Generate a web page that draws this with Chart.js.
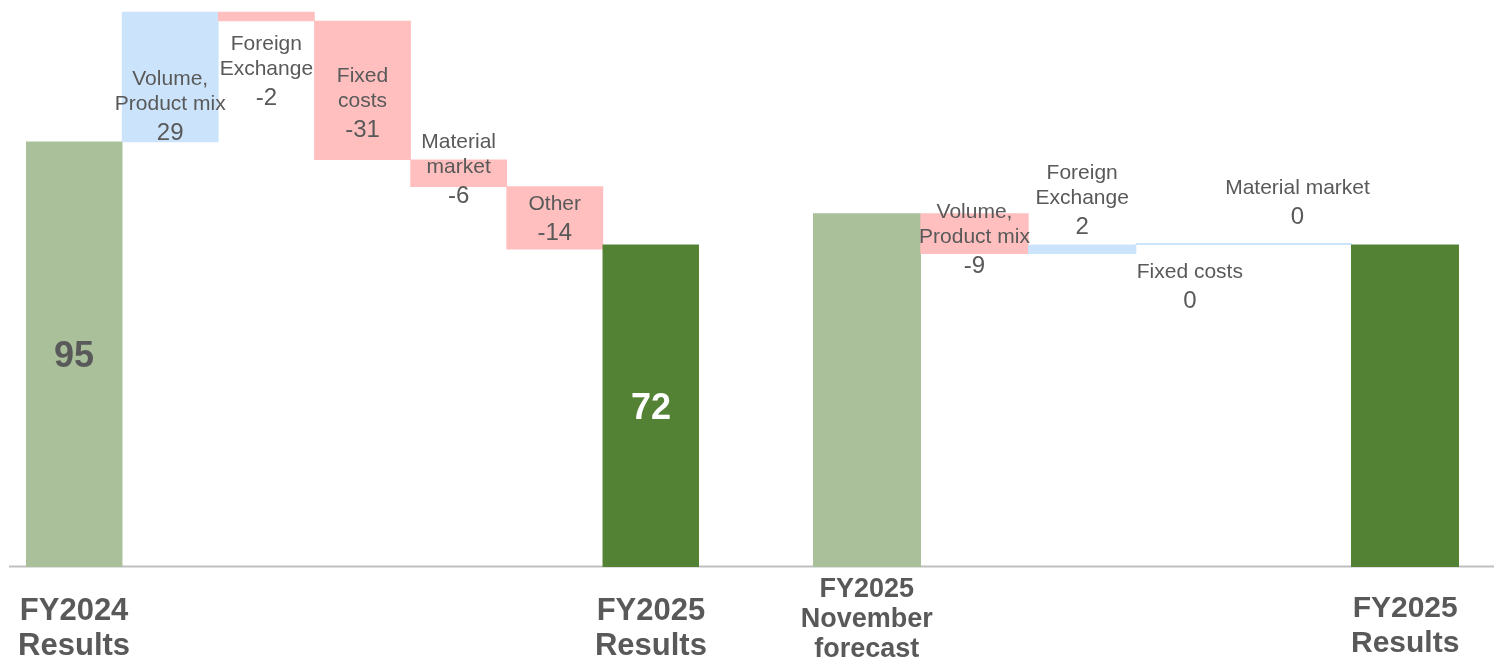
<!DOCTYPE html>
<html>
<head>
<meta charset="utf-8">
<script src="https://cdn.jsdelivr.net/npm/chart.js@4.4.1/dist/chart.umd.min.js"></script>
<style>
  html, body { margin: 0; background: #fff; }
  #wrap { position: relative; width: 1494px; height: 657px; overflow: hidden; }
  canvas { position: absolute; top: 0; }
  #left  { left: 0; }
  #right { left: 750px; }
</style>
</head>
<body>
<div id="wrap">
  <canvas id="left" width="750" height="657"></canvas>
  <canvas id="right" width="744" height="657"></canvas>
</div>
<script>
// Operating profit bridge: FY2024 -> FY2025, and November forecast -> FY2025

// left bridge
const leftValues = [95, 29, -2, -31, -6, -14, 72];
const leftKinds  = ["start", "delta", "delta", "delta", "delta", "delta", "end"];
const leftTicks  = [["FY2024", "Results"], "", "", "", "", "", ["FY2025", "Results"]];
const leftNames  = [null, ["Volume,", "Product mix"], ["Foreign", "Exchange"], ["Fixed", "costs"], ["Material", "market"], ["Other"], null];

// right bridge
const rightValues = [79, -9, 2, 0, 0, 72];
const rightKinds  = ["start", "delta", "delta", "delta", "delta", "end"];
const rightTicks  = [["FY2025", "November", "forecast"], "", "", "", "", ["FY2025", "Results"]];
const rightNames  = [null, ["Volume,", "Product mix"], ["Foreign", "Exchange"], ["Fixed costs"], ["Material market"], null];

// where each step label sits relative to its bar
const leftPlace  = [null, { at: "base" }, { at: "below", gap: 14 }, { at: "mid", dy: 12 }, { at: "mid", dy: -5 }, { at: "mid" }, null];
const rightPlace = [null, { at: "mid", dy: 4 }, { at: "above", gap: 11 }, { at: "below", gap: 18 }, { at: "above", gap: 19 }, null];

const FONT = "'Liberation Sans', Arial, sans-serif";
const TEXT = "#595959";
const COLORS = { start: "#A9C09A", end: "#548235", up: "#CCE4FB", down: "#FFBFBF" };
const Y_MAX = 126.7;

// turn step values into floating [from, to] bars
function bridge(values, kinds) {
  let run = 0;
  return values.map((v, i) => {
    if (kinds[i] !== "delta") { run = v; return [0, v]; }
    const from = run;
    run += v;
    return [from, run];
  });
}

function barColors(values, kinds) {
  return values.map((v, i) => {
    if (kinds[i] === "start") return COLORS.start;
    if (kinds[i] === "end") return COLORS.end;
    return v < 0 ? COLORS.down : COLORS.up;
  });
}

const stepLabels = {
  id: "stepLabels",
  afterDatasetsDraw(chart, args, opts) {
    const ctx = chart.ctx;
    const meta = chart.getDatasetMeta(0);
    meta.data.forEach((bar, i) => {
      const value = opts.values[i];
      const kind = opts.kinds[i];
      const p = bar.getProps(["x", "y", "base"], true);
      const top = Math.min(p.y, p.base);
      const bottom = Math.max(p.y, p.base);
      ctx.save();
      ctx.textAlign = "center";

      if (kind !== "delta") {
        if (opts.totals) {
          ctx.font = "bold 36px " + FONT;
          ctx.fillStyle = kind === "end" ? "#ffffff" : TEXT;
          ctx.textBaseline = "middle";
          ctx.fillText(String(value), p.x, (top + bottom) / 2 + 3);
        }
        ctx.restore();
        return;
      }

      const names = opts.names[i];
      const place = opts.place[i];
      const lineGap = 25, valueGap = 30, cap = 15;
      const span = (names.length - 1) * lineGap + valueGap; // first baseline -> value baseline
      let first;
      if (place.at === "base") first = bottom - 2 - span;
      else if (place.at === "below") first = bottom + place.gap + cap;
      else if (place.at === "above") first = top - place.gap - span;
      else first = (top + bottom) / 2 + (place.dy || 0) - (span + cap) / 2 + cap;

      ctx.textBaseline = "alphabetic";
      ctx.fillStyle = TEXT;
      ctx.font = "21px " + FONT;
      names.forEach((line, k) => ctx.fillText(line, p.x, first + k * lineGap));
      ctx.font = "24px " + FONT;
      ctx.fillText(String(value), p.x, first + span);
      ctx.restore();
    });
  }
};

const axisLine = {
  id: "axisLine",
  beforeDatasetsDraw(chart, args, opts) {
    const ctx = chart.ctx;
    const y = chart.scales.y.getPixelForValue(0);
    ctx.save();
    ctx.strokeStyle = "#BFBFBF";
    ctx.lineWidth = 2;
    ctx.beginPath();
    ctx.moveTo(opts.from, y - 0.5);
    ctx.lineTo(chart.width, y - 0.5);
    ctx.stroke();
    ctx.restore();
  }
};

function makeChart(id, cfg) {
  return new Chart(document.getElementById(id), {
    type: "bar",
    data: {
      labels: cfg.ticks,
      datasets: [{
        data: bridge(cfg.values, cfg.kinds),
        backgroundColor: barColors(cfg.values, cfg.kinds),
        borderWidth: 0,
        barPercentage: 1,
        categoryPercentage: 1,
        minBarLength: 1.5
      }]
    },
    options: {
      responsive: false,
      animation: false,
      layout: { padding: { left: cfg.padLeft, right: cfg.padRight, top: 0, bottom: 0 } },
      plugins: {
        legend: { display: false },
        tooltip: { enabled: false },
        stepLabels: { values: cfg.values, kinds: cfg.kinds, names: cfg.names, place: cfg.place, totals: cfg.totals },
        axisLine: { from: cfg.lineFrom }
      },
      scales: {
        y: { display: false, min: 0, max: Y_MAX },
        x: {
          grid: { display: false, drawTicks: false },
          border: { display: false },
          afterFit(scale) {
            scale.height = 90;
            scale.paddingLeft = 0;
            scale.paddingRight = 0;
          },
          ticks: {
            autoSkip: false,
            maxRotation: 0,
            minRotation: 0,
            padding: cfg.tickPad,
            crossAlign: cfg.crossAlign,
            color: TEXT,
            font: cfg.tickFont
          }
        }
      }
    },
    plugins: [axisLine, stepLabels]
  });
}

makeChart("left", {
  values: leftValues, kinds: leftKinds, ticks: leftTicks, names: leftNames, place: leftPlace,
  totals: true, padLeft: 26, padRight: 51, lineFrom: 9,
  tickPad: 26, crossAlign: "near",
  tickFont: { family: FONT, size: 31, weight: "bold", lineHeight: 1.16 }
});

makeChart("right", {
  values: rightValues, kinds: rightKinds, ticks: rightTicks, names: rightNames, place: rightPlace,
  totals: false, padLeft: 63, padRight: 35, lineFrom: 0,
  tickPad: 23, crossAlign: "far",
  tickFont: c => c.index === 0
    ? { family: FONT, size: 27, weight: "bold", lineHeight: 1.1 }
    : { family: FONT, size: 30, weight: "bold", lineHeight: 1.167 }
});
</script>
</body>
</html>
